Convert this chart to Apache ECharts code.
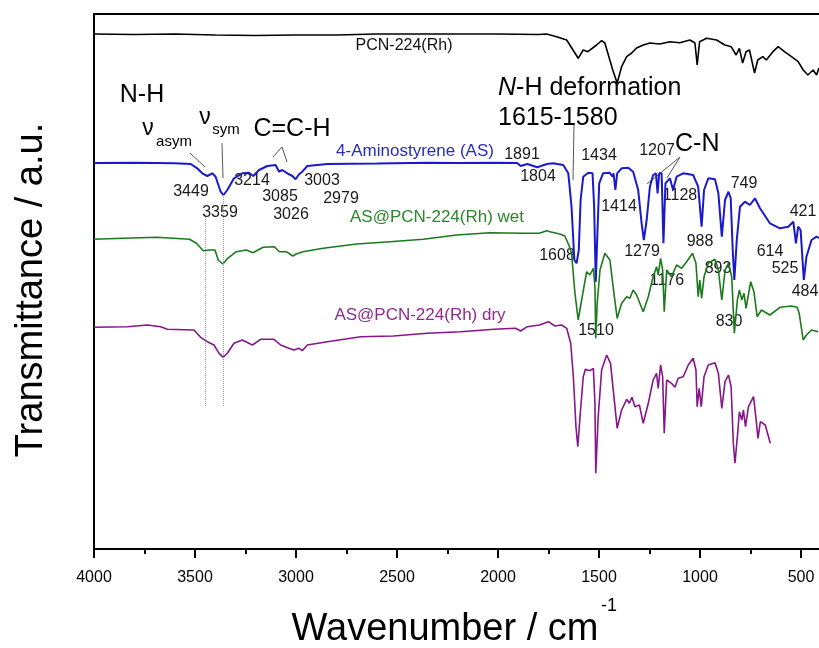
<!DOCTYPE html>
<html>
<head>
<meta charset="utf-8">
<script src="https://cdn.jsdelivr.net/npm/echarts@6/dist/echarts.min.js"></script>
<style>
  html, body { margin: 0; padding: 0; background: #fff; }
  #chart { width: 819px; height: 648px; }
</style>
</head>
<body>
<div id="chart"></div>
<script>
// FTIR spectra, [wavenumber (cm-1), transmittance (a.u., stacked offsets)]
const pcn224 = [
  [4000, 515], [3800, 514.5], [3600, 515], [3400, 514], [3200, 513.5], [3000, 514], [2800, 514],
  [2600, 515], [2400, 515], [2200, 515], [2000, 515], [1800, 514.5], [1759, 515], [1710, 512.3],
  [1660, 509], [1603, 490.7], [1578, 499], [1555, 497.3], [1512, 504], [1487, 508.3], [1471, 506],
  [1432, 479], [1410, 466], [1388, 482.3], [1363, 492.3], [1338, 496], [1314, 501], [1281, 504],
  [1248, 506], [1199, 505], [1149, 507.3], [1100, 506.3], [1050, 509], [1025, 506], [1014, 484],
  [1002, 507.3], [967, 510.7], [918, 509], [877, 504], [846, 502.3], [821, 494], [805, 500.7],
  [789, 486], [772, 497.3], [755, 499], [730, 476], [714, 489], [689, 492.3], [672, 489],
  [639, 497.3], [613, 502.3], [582, 497.3], [547, 492.3], [514, 487.3], [489, 479], [466, 474],
  [440, 479], [423, 474], [411, 481]
];

const aminostyrene = [
  [4000, 386], [3800, 386.3], [3600, 385.7], [3521, 385], [3489, 380.7], [3464, 375.7], [3439, 373],
  [3414, 375.7], [3398, 372.3], [3373, 357.3], [3359, 354], [3340, 359], [3307, 370.7], [3266, 375.7],
  [3233, 376.3], [3211, 373], [3183, 379], [3142, 383], [3101, 384], [3084, 377.3], [3068, 379],
  [3043, 375.7], [3018, 373], [3002, 369.7], [2985, 374.7], [2969, 377.3], [2944, 383], [2845, 385],
  [2600, 385.5], [2352, 386.3], [2200, 386], [2020, 386.3], [1905, 386], [1888, 383], [1855, 385],
  [1806, 381.7], [1757, 385], [1727, 385.7], [1677, 384], [1652, 375.7], [1636, 342.3], [1622, 289],
  [1611, 285.7], [1600, 299], [1591, 349], [1578, 372.3], [1553, 376.3], [1532, 375.7], [1524, 342.3],
  [1516, 267.3], [1509, 309], [1499, 365.7], [1480, 375.7], [1448, 376.3], [1433, 372.3], [1428, 375.7],
  [1419, 359], [1410, 375.7], [1388, 380.7], [1355, 381.3], [1331, 377.3], [1306, 359], [1289, 325.7],
  [1278, 309], [1264, 329], [1248, 362.3], [1232, 374], [1218, 375.7], [1210, 355.7], [1202, 375.7],
  [1190, 375.7], [1181, 305.7], [1171, 365.7], [1149, 370.7], [1133, 359], [1116, 372.3], [1083, 375.7],
  [1034, 374], [1009, 362.3], [992, 322.3], [980, 359], [959, 370.7], [926, 369.7], [909, 355.7],
  [892, 312.3], [876, 349], [859, 357.3], [848, 350.7], [838, 299], [830, 269], [818, 309], [802, 342.3],
  [778, 347.3], [753, 344], [728, 350.7], [703, 340.7], [654, 325.7], [604, 320.7], [563, 322.3],
  [538, 327.3], [525, 305.7], [514, 322.3], [502, 319], [486, 269], [473, 292.3], [448, 309],
  [423, 312.3], [411, 311]
];

const asWet = [
  [4000, 309.7], [3855, 310.7], [3690, 311.7], [3527, 309.7], [3493, 305.7], [3459, 298.3], [3426, 299],
  [3401, 299], [3385, 289], [3362, 285], [3338, 290.7], [3296, 297.3], [3246, 299], [3213, 296.3],
  [3163, 301.7], [3107, 302.3], [3082, 297.3], [3048, 297.3], [3016, 293], [2999, 295], [2966, 297.3],
  [2865, 300.7], [2700, 305], [2535, 307.3], [2370, 309.7], [2205, 314], [2040, 316.3], [1875, 315.7],
  [1795, 315.7], [1759, 318.3], [1743, 317.3], [1710, 315.7], [1694, 315], [1669, 313], [1660, 312.3],
  [1646, 302.3], [1636, 295.7], [1619, 255.7], [1603, 229], [1586, 249], [1561, 277.3], [1545, 274],
  [1528, 280.7], [1520, 262.3], [1516, 210.7], [1509, 245.7], [1495, 279], [1471, 295.7], [1446, 289],
  [1426, 255.7], [1410, 230.7], [1388, 245.7], [1363, 252.3], [1347, 250.7], [1331, 259], [1314, 254],
  [1281, 237.3], [1256, 252.3], [1232, 272.3], [1215, 282.3], [1207, 274], [1195, 290.7], [1185, 279],
  [1177, 237.3], [1165, 279], [1141, 272.3], [1116, 284], [1091, 280.7], [1066, 287.3], [1037, 295.7],
  [1020, 285.7], [1009, 252.3], [1001, 269], [992, 250.7], [980, 272.3], [959, 285.7], [926, 289.7],
  [909, 279], [892, 249], [876, 279], [859, 285.7], [843, 272.3], [830, 215.7], [815, 249], [805, 259],
  [793, 249], [782, 255.7], [772, 240.7], [749, 267.3], [733, 257.3], [717, 232.3], [696, 239],
  [654, 234], [604, 241.7], [547, 243], [519, 241.7], [509, 235.7], [489, 209], [473, 214],
  [448, 219], [415, 217.3]
];

const asDry = [
  [4000, 221.7], [3835, 222.3], [3736, 224], [3670, 222.3], [3637, 219.7], [3505, 219], [3472, 211.7],
  [3439, 207.3], [3406, 204], [3381, 195.7], [3360, 191.7], [3340, 195.7], [3307, 205.7], [3266, 209],
  [3216, 204], [3175, 209.7], [3109, 209.7], [3076, 204], [3035, 200.7], [3010, 199], [2985, 200.7],
  [2969, 198.3], [2944, 204], [2845, 207.3], [2680, 212.3], [2518, 213], [2350, 215.7], [2185, 217.3],
  [2020, 219.7], [1913, 220.7], [1888, 218], [1855, 222.3], [1795, 224], [1751, 227.3], [1718, 223],
  [1685, 224], [1660, 220.7], [1640, 205.7], [1627, 172.3], [1614, 122.3], [1605, 102.3], [1594, 132.3],
  [1578, 172.3], [1567, 179.7], [1545, 178.3], [1528, 180.7], [1520, 145.7], [1516, 75.7], [1504, 132.3],
  [1487, 179], [1462, 194], [1443, 185.7], [1426, 152.3], [1410, 120.7], [1388, 139], [1363, 149.7],
  [1350, 145.7], [1337, 151.7], [1322, 142.3], [1300, 144], [1281, 125.7], [1256, 145.7], [1232, 169],
  [1215, 175.7], [1207, 160.7], [1195, 184], [1185, 172.3], [1177, 115.7], [1165, 169], [1141, 165.7],
  [1124, 161.7], [1108, 170.7], [1083, 172.3], [1058, 184], [1034, 190.7], [1020, 179], [1014, 142.3],
  [1004, 160.7], [994, 142.3], [980, 172.3], [959, 184], [926, 186.3], [909, 175.7], [892, 140.7],
  [876, 167.3], [859, 174], [846, 162.3], [835, 105.7], [827, 85.7], [815, 112.3], [805, 137.3],
  [793, 129], [785, 139], [775, 122.3], [760, 142.3], [735, 152.3], [722, 129], [713, 110.7],
  [701, 127.3], [677, 124], [652, 105.7]
];

const seriesNames = ['PCN-224(Rh)', '4-Aminostyrene (AS)', 'AS@PCN-224(Rh) wet', 'AS@PCN-224(Rh) dry'];
const guideWavenumbers = [3449, 3359];

const FONT = "'Liberation Sans', Arial, sans-serif";
const colors = ['#000000', '#1a1acb', '#1b7a1b', '#86168a'];
const labelColors = ['#111111', '#2a2ac4', '#2a872a', '#8e2a90'];

// annotation texts, placed in pixels
const seriesLabelPos = [[404, 46], [415, 151], [437, 217], [420, 315]];
const peakLabels = [
  ['3449', 191, 192], ['3359', 220, 213], ['3214', 252, 181], ['3085', 280, 197], ['3026', 291, 215],
  ['3003', 322, 181], ['2979', 341, 199], ['1891', 522, 155], ['1804', 538, 177], ['1434', 599, 156],
  ['1207', 657, 151], ['1414', 619, 207], ['1128', 680, 196], ['749', 744, 184], ['421', 803, 212],
  ['1608', 557, 256], ['1279', 642, 252], ['988', 700, 242], ['614', 770, 252], ['525', 785, 269],
  ['893', 718, 269], ['1176', 667, 281], ['484', 805, 292], ['1510', 596, 331], ['830', 729, 322]
];

const graphics = [];
function txt(x, y, text, size, color, extra) {
  graphics.push({
    type: 'text', x: x, y: y, silent: true,
    style: Object.assign({
      text: text, fontSize: size, fontFamily: FONT, fill: color,
      align: 'center', verticalAlign: 'middle'
    }, extra || {})
  });
}
function line(points) {
  graphics.push({
    type: 'polyline', silent: true,
    shape: { points: points },
    style: { stroke: '#555', lineWidth: 1, fill: null }
  });
}

seriesNames.forEach((n, i) => txt(seriesLabelPos[i][0], seriesLabelPos[i][1], n, i === 0 ? 16 : 17, labelColors[i]));
peakLabels.forEach(p => txt(p[1], p[2], p[0], 16, '#1a1a1a'));

txt(142, 95, 'N-H', 25, '#000');
txt(148, 129, '\u03bd', 23, '#000');
txt(174, 142, 'asym', 15, '#000');
txt(205, 118, '\u03bd', 23, '#000');
txt(226, 130, 'sym', 15, '#000');
txt(292, 129, 'C=C-H', 25, '#000');
txt(498, 88, '{i|N}-H deformation', 25, '#000', {
  align: 'left', rich: { i: { fontStyle: 'italic', fontSize: 25, fontFamily: FONT } }
});
txt(498, 118, '1615-1580', 25, '#000', { align: 'left' });
txt(675, 144, 'C-N', 25, '#000', { align: 'left' });

line([[190, 153], [205, 167]]);
line([[222, 143], [223, 178]]);
line([[273, 157], [282, 147], [287, 162]]);
line([[574, 125], [573, 180]]);
line([[680, 157], [647, 184]]);
line([[680, 157], [667, 178]]);

// axis titles
graphics.push({
  type: 'text', x: 32, y: 290, rotation: Math.PI / 2, silent: true,
  style: { text: 'Transmittance / a.u.', fontSize: 38, fontFamily: FONT, fill: '#000', align: 'center', verticalAlign: 'middle' }
});
txt(445, 630, 'Wavenumber / cm', 38, '#000');
txt(609, 606, '-1', 18, '#000');

const chart = echarts.init(document.getElementById('chart'));

const option = {
  animation: false,
  backgroundColor: '#fff',
  grid: {
    left: 94, top: 14, width: 808, height: 535,
    outerBoundsMode: 'none', containLabel: false,
    show: true, borderColor: '#000', borderWidth: 2
  },
  xAxis: {
    type: 'value', inverse: true, min: 0, max: 4000, interval: 500,
    axisLine: { show: true, lineStyle: { color: '#000', width: 2 } },
    axisTick: { show: true, length: 9, lineStyle: { color: '#000', width: 2 } },
    minorTick: { show: true, splitNumber: 2, length: 5, lineStyle: { color: '#000', width: 2 } },
    axisLabel: {
      fontSize: 16, color: '#000', fontFamily: FONT, margin: 21,
      formatter: v => (v === 0 ? '' : String(v))
    },
    splitLine: { show: false }
  },
  yAxis: {
    type: 'value', min: 0, max: 535,
    axisLine: { show: true, lineStyle: { color: '#000', width: 2 } },
    axisTick: { show: false }, axisLabel: { show: false }, splitLine: { show: false }
  },
  series: [pcn224, aminostyrene, asWet, asDry].map((d, i) => ({
    name: seriesNames[i],
    type: 'line',
    data: d,
    showSymbol: false,
    symbol: 'none',
    lineStyle: { color: colors[i], width: i === 1 ? 2 : 1.6 },
    z: 3,
    markLine: i === 3 ? {
      silent: true, symbol: 'none', label: { show: false },
      lineStyle: { color: '#999', type: 'dotted', width: 1 },
      data: [
        [{ coord: [guideWavenumbers[0], 332] }, { coord: [guideWavenumbers[0], 142] }],
        [{ coord: [guideWavenumbers[1], 356] }, { coord: [guideWavenumbers[1], 142] }]
      ]
    } : undefined
  })),
  graphic: graphics
};

chart.setOption(option);
</script>
</body>
</html>
